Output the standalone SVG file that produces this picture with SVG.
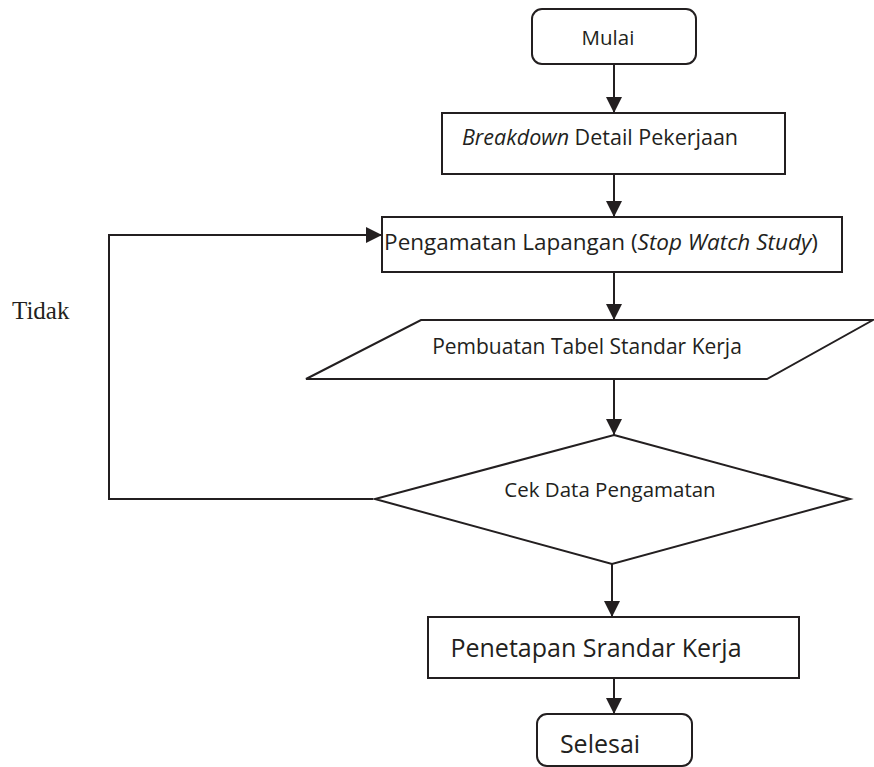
<svg xmlns="http://www.w3.org/2000/svg" width="874" height="767" viewBox="0 0 874 767">
  <style>
    .shape { fill: #ffffff; stroke: #231f20; stroke-width: 2; }
    .line { fill: none; stroke: #231f20; stroke-width: 2; }
    .lbl { font-family: "Open Sans", "Liberation Sans", sans-serif; font-size: 20.5px; fill: #231f20; text-anchor: middle; }
    .big { font-size: 25px; }
    .it { font-style: italic; }
    .serif { font-family: "Liberation Serif", "Times New Roman", serif; font-size: 25px; fill: #231f20; }
  </style>
  <defs>
    <marker id="arrow" markerUnits="userSpaceOnUse" markerWidth="16" markerHeight="16" viewBox="0 0 16 16" refX="16" refY="8" orient="auto">
      <path d="M0,0 L16,8 L0,16 Z" fill="#231f20"/>
    </marker>
  </defs>

  <g id="connectors">
    <line class="line" x1="614" y1="64" x2="614" y2="113" marker-end="url(#arrow)"/>
    <line class="line" x1="614" y1="174" x2="614" y2="217" marker-end="url(#arrow)"/>
    <line class="line" x1="614" y1="272" x2="614" y2="320" marker-end="url(#arrow)"/>
    <line class="line" x1="614" y1="379" x2="614" y2="435" marker-end="url(#arrow)"/>
    <line class="line" x1="612" y1="564" x2="612" y2="617" marker-end="url(#arrow)"/>
    <line class="line" x1="614" y1="678" x2="614" y2="714" marker-end="url(#arrow)"/>
    <polyline class="line" points="373,499 109,499 109,235 382,235" marker-end="url(#arrow)"/>
  </g>

  <g id="label-tidak">
    <text class="serif" x="12" y="319">Tidak</text>
  </g>

  <g id="mulai">
    <rect class="shape" x="532" y="9" width="164" height="55" rx="10" ry="10"/>
    <text class="lbl" x="608" y="45">Mulai</text>
  </g>

  <g id="breakdown">
    <rect class="shape" x="442" y="113" width="343" height="61"/>
    <text class="lbl" x="600" y="145" style="font-size:21.5px"><tspan class="it">Breakdown</tspan> Detail Pekerjaan</text>
  </g>

  <g id="pengamatan">
    <rect class="shape" x="382" y="217" width="460" height="55"/>
    <text class="lbl" x="601" y="250" style="font-size:22.5px">Pengamatan Lapangan (<tspan class="it">Stop Watch Study</tspan>)</text>
  </g>

  <g id="pembuatan">
    <polygon class="shape" points="421,320 873,320 767,379 306,379"/>
    <text class="lbl" x="587" y="354" style="font-size:21px">Pembuatan Tabel Standar Kerja</text>
  </g>

  <g id="cek">
    <polygon class="shape" points="614,435 850,499 612,564 375,499"/>
    <text class="lbl" x="610" y="497">Cek Data Pengamatan</text>
  </g>

  <g id="penetapan">
    <rect class="shape" x="428" y="617" width="371" height="61"/>
    <text class="lbl big" x="596" y="657">Penetapan Srandar Kerja</text>
  </g>

  <g id="selesai">
    <rect class="shape" x="537" y="714" width="155" height="52" rx="10" ry="10"/>
    <text class="lbl big" x="600" y="753">Selesai</text>
  </g>
</svg>
